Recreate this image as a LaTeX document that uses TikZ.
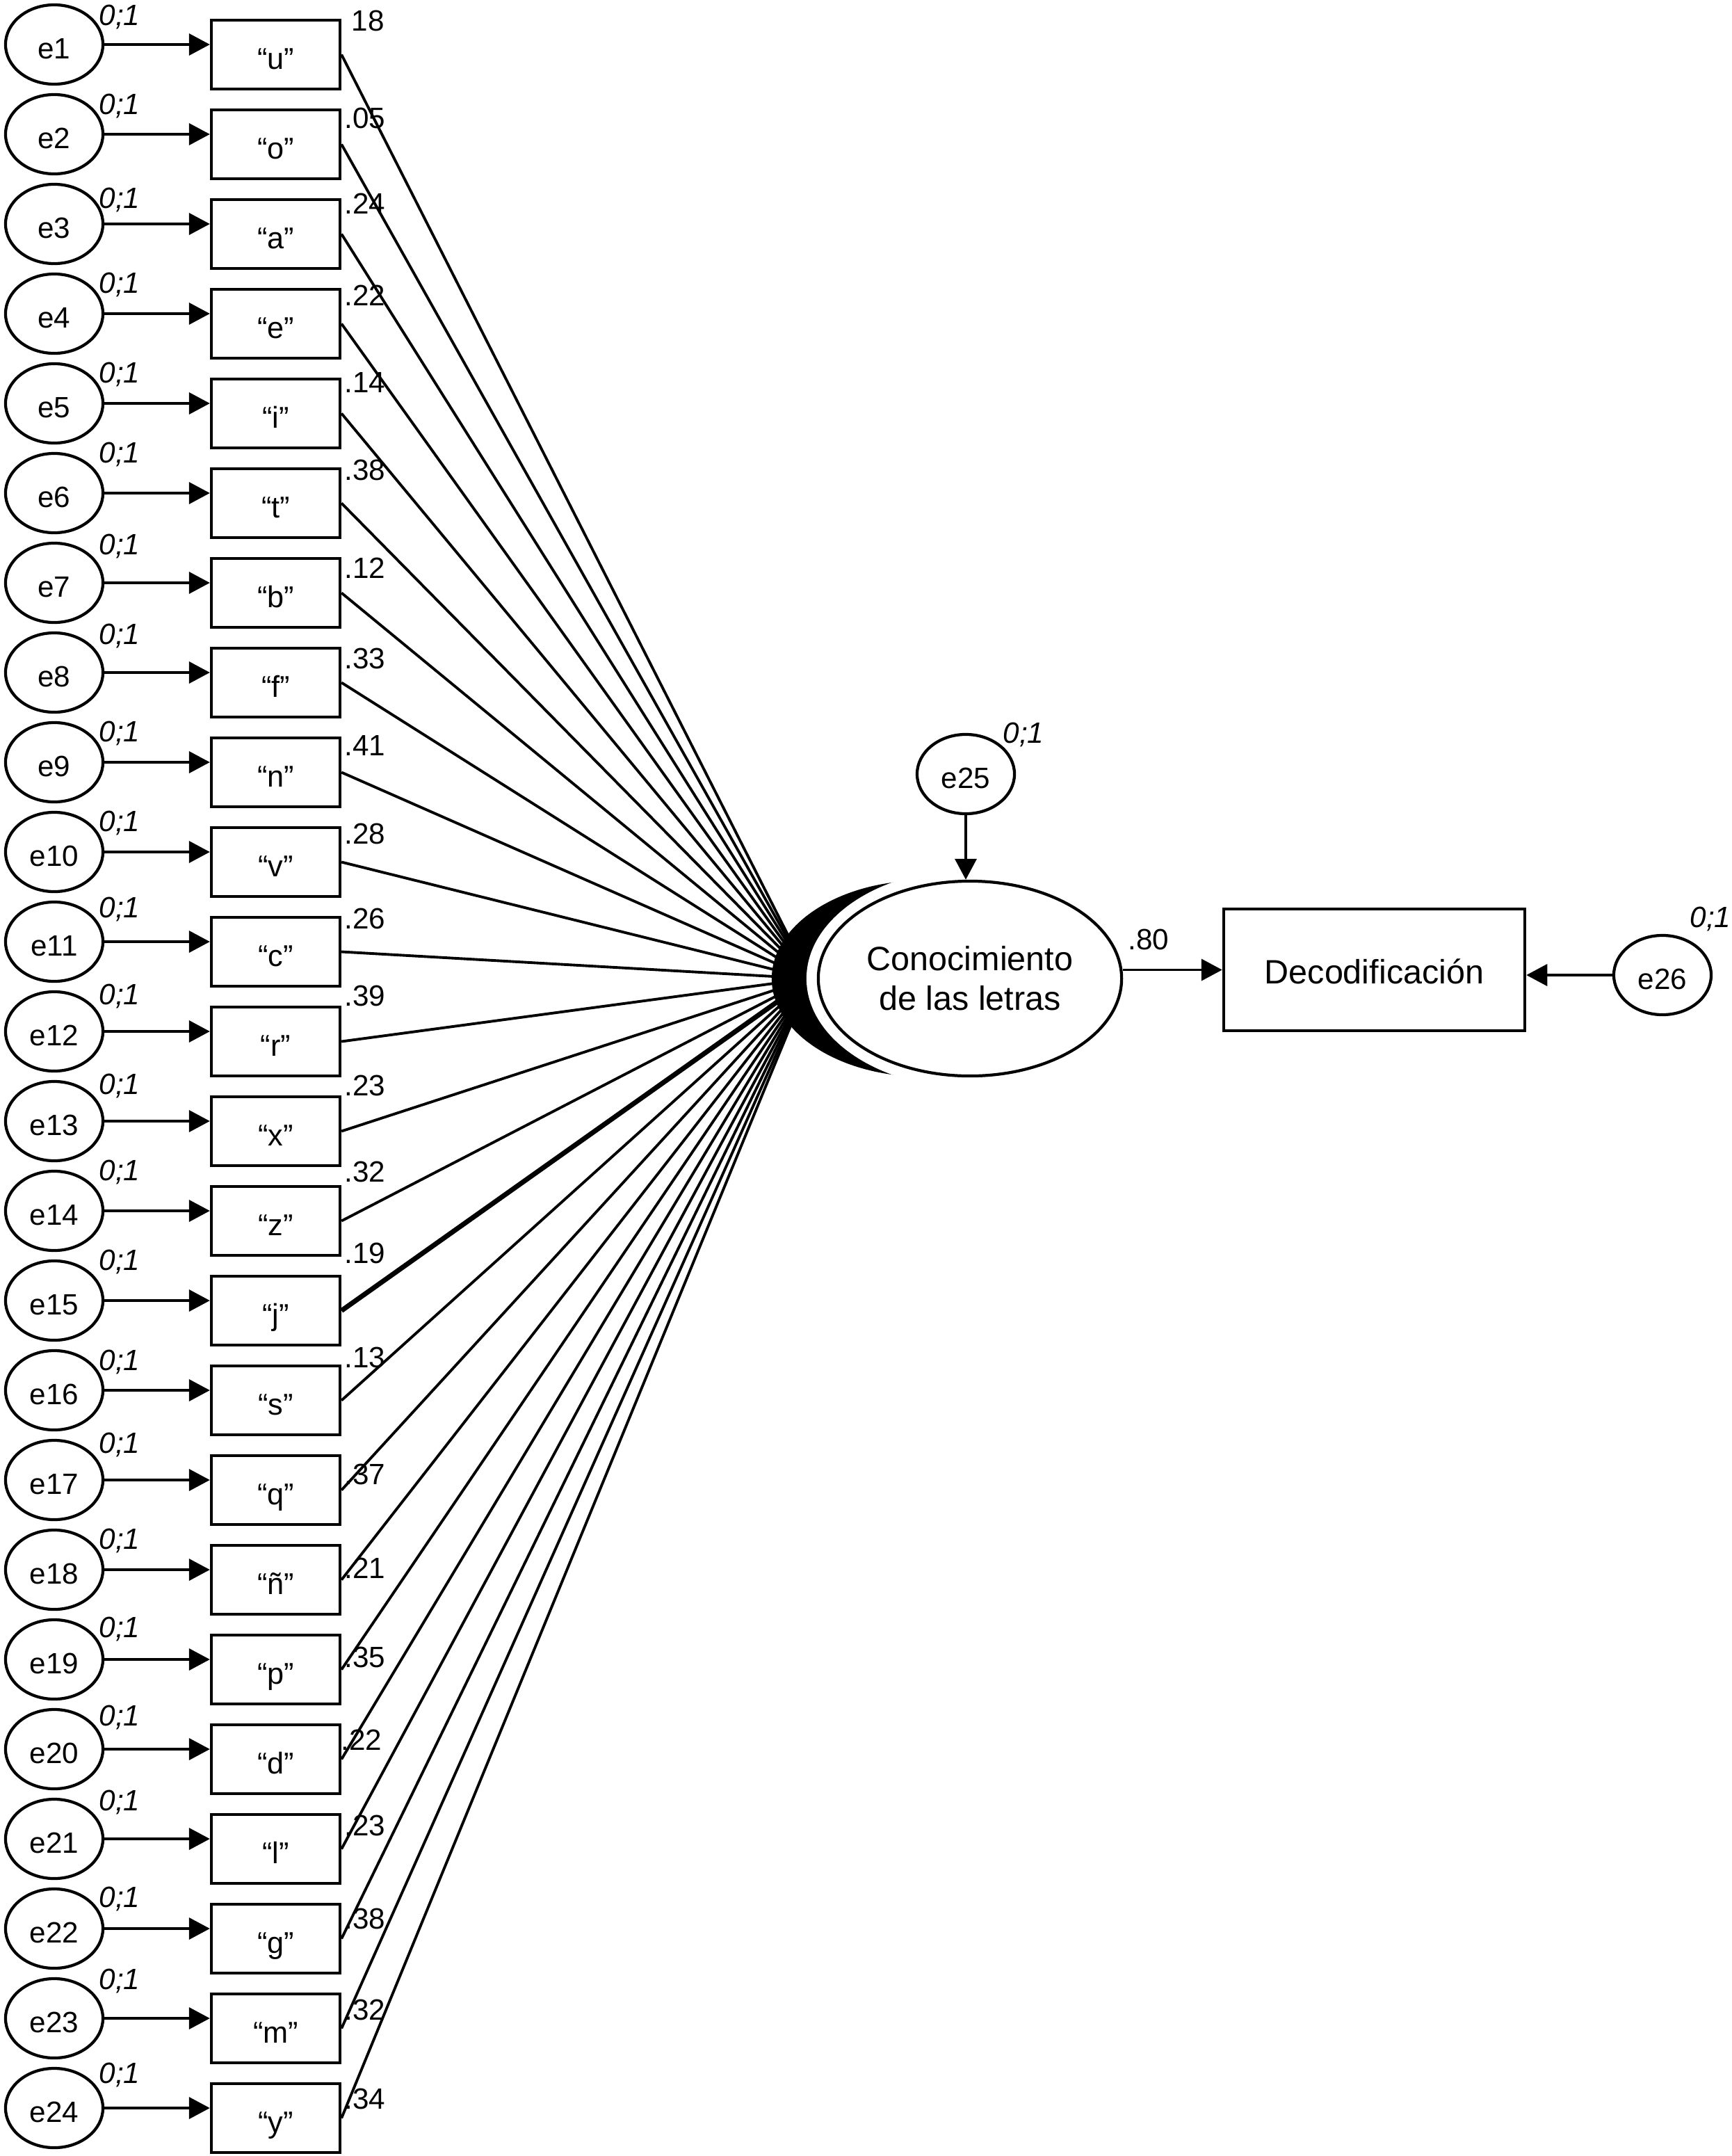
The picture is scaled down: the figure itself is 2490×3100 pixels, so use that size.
\documentclass[tikz,border=0pt]{standalone}
\usepackage{fontspec}
\setmainfont{Liberation Sans}
\usetikzlibrary{shapes.geometric,arrows.meta}
\begin{document}
\begin{tikzpicture}[x=0.01cm,y=-0.01cm,
  errnode/.style={draw, ellipse, line width=1.2pt, minimum width=1.40cm, minimum height=1.14cm, inner sep=0pt, font=\fontsize{12}{14}\selectfont, text height=0.40cm, text depth=0cm},
  obsnode/.style={draw, rectangle, line width=1.2pt, minimum width=1.85cm, minimum height=0.99cm, inner sep=0pt, font=\fontsize{12.3}{14}\selectfont, text height=0.42cm, text depth=0cm},
  arr/.style={-{Triangle[length=0.30cm,width=0.31cm]}, line width=1.1pt},
  coef/.style={font=\fontsize{12}{14}\selectfont, inner sep=0pt},
  varlab/.style={font=\fontsize{12}{14}\selectfont\itshape, inner sep=0pt}]
\useasboundingbox (0,0) rectangle (2490,3100);
\coordinate (conv) at (1165,1407);
\foreach \i/\t/\v/\vy/\zy/\w/\lx in {
  1/u/18/30/24/1.1/505,
  2/o/.05/170/152/1.1/495,
  3/a/.24/293/287/1.1/495,
  4/e/.22/425/409/1.1/495,
  5/i/.14/550/538/1.1/495,
  6/t/.38/676/653/1.1/495,
  7/b/.12/817/785/1.1/495,
  8/f/.33/947/914/1.1/495,
  9/n/.41/1072/1054/1.1/495,
  10/v/.28/1199/1183/1.1/495,
  11/c/.26/1321/1307/1.1/495,
  12/r/.39/1432/1432/1.1/495,
  13/x/.23/1561/1561/1.1/495,
  14/z/.32/1685/1685/1.1/495,
  15/j/.19/1802/1814/2.0/495,
  16/s/.13/1952/1958/1.1/495,
  17/q/.37/2120/2077/1.1/495,
  18/ñ/.21/2255/2215/1.1/495,
  19/p/.35/2383/2342/1.1/495,
  20/d/.22/2502/2469/1.1/490,
  21/l/.23/2625/2591/1.1/495,
  22/g/.38/2759/2730/1.1/495,
  23/m/.32/2890/2848/1.1/495,
  24/y/.34/3018/2983/1.1/495}{
  \pgfmathsetmacro\yc{64+129*(\i-1)}
  \pgfmathsetmacro\yb{\yc+14.5}
  \node[errnode] (e\i) at (78,\yc) {e\i};
  \node[obsnode] (b\i) at (396.5,\yb) {“\t”};
  \node[varlab] (z\i) at (172,\zy) {0;1};
  \node[coef, anchor=west] (l\i) at (\lx,\vy) {\v};
  \draw[arr] (e\i) -- (e\i -| b\i.west);
  \draw[line width=\w pt] (b\i.east) -- (conv);
}
% crescent behind the latent variable
\fill (1328,1407) ellipse [x radius=2.18cm, y radius=1.41cm];
\fill[white] (1395,1407) ellipse [x radius=2.35cm, y radius=1.57cm];
\node[draw, ellipse, fill=white, line width=1.2pt, minimum width=4.36cm, minimum height=2.80cm, inner sep=0pt, align=center, font=\fontsize{13.8}{16.2}\selectfont] (main) at (1395,1407) {Conocimiento\\de las letras};
% e25
\node[errnode] (e25) at (1389,1113) {e25};
\node[varlab] (z25) at (1472,1056) {0;1};
\draw[arr] (e25) -- (e25 |- main.north);
% Decodificacion
\node[draw, rectangle, line width=1.2pt, minimum width=4.33cm, minimum height=1.75cm, inner sep=0pt, font=\fontsize{13.8}{16}\selectfont, text height=0.40cm, text depth=0cm] (dec) at (1976.5,1394.5) {Decodificación};
\draw[arr] (main.east |- dec.west) -- (dec.west);
\node[coef] (l80) at (1652,1351) {.80};
% e26
\node[errnode] (e26) at (2391,1402) {e26};
\node[varlab] (z26) at (2460,1321) {0;1};
\draw[arr] (e26) -- (e26 -| dec.east);
\end{tikzpicture}
\end{document}
